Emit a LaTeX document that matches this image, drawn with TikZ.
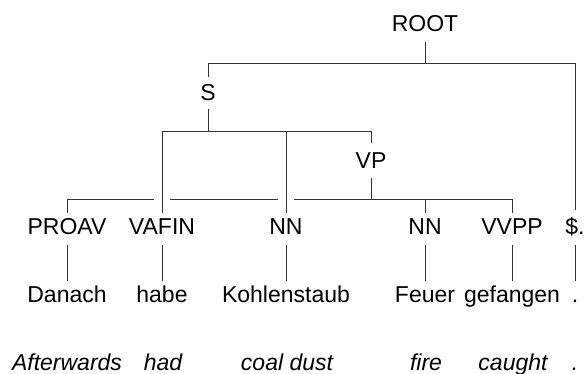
\documentclass[tikz,border=0pt]{standalone}
\usepackage{fontspec}
\setmainfont{Liberation Sans}
\begin{document}
\begin{tikzpicture}[x=1pt,y=-1pt,
  lbl/.style 2 args={font=\fontsize{23}{28}\selectfont, anchor=base, inner xsep=0pt, inner ysep=0pt, outer sep=0pt, text height=#1, text depth=#2},
  trans/.style={font=\fontsize{23}{28}\selectfont\itshape, anchor=base, inner sep=0pt},
  edge/.style={draw=black!80, line width=0.8pt}]
\useasboundingbox (0,0) rectangle (584,374);
% phrase nodes
\node[lbl={17pt}{10pt}] (root) at (425,32) {ROOT};
\node[lbl={24pt}{8pt}] (s) at (208,101) {S};
\node[lbl={26pt}{9pt}] (vp) at (371,169) {VP};
% POS nodes
\node[lbl={22pt}{10pt}] (proav) at (67,235) {PROAV};
\node[lbl={22pt}{10pt}] (vafin) at (162,235) {VAFIN};
\node[lbl={22pt}{10pt}] (nna) at (286,235) {NN};
\node[lbl={22pt}{10pt}] (nnb) at (425,235) {NN};
\node[lbl={22pt}{10pt}] (vvpp) at (512,235) {VVPP};
\node[lbl={25pt}{10pt}] (punct) at (575,235) {\$.};
% words
\node[lbl={21pt}{0pt}] (w1) at (67,302) {Danach};
\node[lbl={21pt}{0pt}] (w2) at (162,302) {habe};
\node[lbl={21pt}{0pt}] (w3) at (286,302) {Kohlenstaub};
\node[lbl={21pt}{0pt}] (w4) at (425,302) {Feuer};
\node[lbl={21pt}{0pt}] (w5) at (512,302) {gefangen};
\node[lbl={21pt}{0pt}] (w6) at (575,302) {.};
% translations
\node[trans] (t1) at (67,370) {Afterwards};
\node[trans] (t2) at (163,370) {had};
\node[trans] (t3) at (287,370) {coal dust};
\node[trans] (t4) at (426,370) {fire};
\node[trans] (t5) at (513,370) {caught};
\node[trans] (t6) at (575,370) {.};
% bar levels
\coordinate (rootbar) at (0,63);
\coordinate (sbar) at (0,131);
\coordinate (vpbar) at (0,199);
% ROOT
\draw[edge] (root.south) -- (root.south |- rootbar) -| (s.north);
\draw[edge] (root.south |- rootbar) -| (punct.north);
% VP (drawn first, crossed by S branches)
\draw[edge] (vp.south) -- (vp.south |- vpbar) -| (proav.north);
\draw[edge] (vp.south |- vpbar) -| (vvpp.north);
\draw[edge] (nnb.north |- vpbar) -- (nnb.north);
\fill[white] (vafin.north |- vpbar) ++(-8,-3) rectangle ++(16,6);
\fill[white] (nna.north |- vpbar) ++(-8,-3) rectangle ++(16,6);
% S
\draw[edge] (s.south) -- (s.south |- sbar) -| (vafin.north);
\draw[edge] (s.south |- sbar) -| (vp.north);
\draw[edge] (nna.north |- sbar) -- (nna.north);
% leaves
\draw[edge] (proav.south) -- (w1.north);
\draw[edge] (vafin.south) -- (w2.north);
\draw[edge] (nna.south) -- (w3.north);
\draw[edge] (nnb.south) -- (w4.north);
\draw[edge] (vvpp.south) -- (w5.north);
\draw[edge] (punct.south) -- (w6.north);
\end{tikzpicture}
\end{document}
